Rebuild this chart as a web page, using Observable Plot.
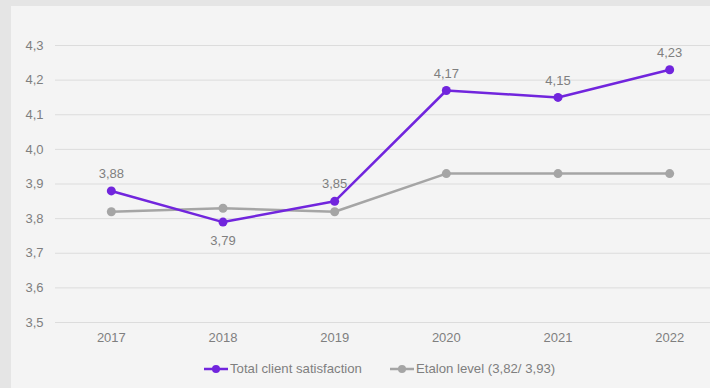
<!DOCTYPE html>
<html>
<head>
<meta charset="utf-8">
<script src="https://cdn.jsdelivr.net/npm/d3@7"></script>
<script src="https://cdn.jsdelivr.net/npm/@observablehq/plot@0.6"></script>
<style>
  html, body { margin: 0; padding: 0; width: 710px; height: 388px; overflow: hidden; background: #e5e5e5; font-family: "Liberation Sans", Arial, sans-serif; }
  #panel { position: absolute; left: 11px; top: 6px; width: 720px; height: 400px; background: #f4f4f4; }
  #chart { position: absolute; left: 0; top: 0; }
  #chart svg { max-width: none !important; }
  #legend { position: absolute; top: 361px; left: 204px; display: flex; gap: 28px; font-size: 13.2px; color: #7f7f7f; white-space: nowrap; }
  .item { display: flex; align-items: center; }
  .item svg { margin-right: 2px; }
</style>
</head>
<body>
<div id="panel"></div>
<div id="chart"></div>
<div id="legend"></div>
<script>
const years = ["2017", "2018", "2019", "2020", "2021", "2022"];
const satisfaction = [3.88, 3.79, 3.85, 4.17, 4.15, 4.23];
const etalon = [3.82, 3.83, 3.82, 3.93, 3.93, 3.93];
const yTicks = [3.5, 3.6, 3.7, 3.8, 3.9, 4.0, 4.1, 4.2, 4.3];
const seriesNames = ["Total client satisfaction", "Etalon level (3,82/ 3,93)"];
const colors = ["#7125dd", "#a5a5a5"];

const fmt = v => d3.format(".1f")(v).replace(".", ",");
const fmt2 = v => d3.format(".2f")(v).replace(".", ",");

const sat = years.map((y, i) => ({year: y, value: satisfaction[i], ref: etalon[i]}));
const eta = years.map((y, i) => ({year: y, value: etalon[i]}));
const above = sat.filter(d => d.value >= d.ref);
const below = sat.filter(d => d.value < d.ref);

const chart = Plot.plot({
  width: 725,
  height: 350,
  marginLeft: 55,
  marginRight: 0,
  marginTop: 45,
  marginBottom: 28,
  style: {background: "transparent", fontFamily: "Liberation Sans, Arial, sans-serif", fontSize: "13px", color: "#7f7f7f", maxWidth: "none"},
  x: {type: "point", domain: years, padding: 0.5, round: false, label: null},
  y: {domain: [3.5, 4.3], label: null},
  marks: [
    Plot.ruleY(yTicks, {stroke: "#dcdcdc", strokeWidth: 1}),
    Plot.axisY({ticks: yTicks, tickFormat: fmt, tickSize: 0, tickPadding: 12, fill: "#7f7f7f", fontSize: 13, label: null}),
    Plot.axisX({tickSize: 0, tickPadding: 10, fill: "#7f7f7f", fontSize: 13, label: null}),
    Plot.line(eta, {x: "year", y: "value", stroke: colors[1], strokeWidth: 2.5}),
    Plot.dot(eta, {x: "year", y: "value", fill: colors[1], r: 4.5}),
    Plot.line(sat, {x: "year", y: "value", stroke: colors[0], strokeWidth: 2.5}),
    Plot.dot(sat, {x: "year", y: "value", fill: colors[0], r: 4.5}),
    Plot.text(above, {x: "year", y: "value", text: d => fmt2(d.value), dy: -17, fill: "#7f7f7f", fontSize: 13}),
    Plot.text(below, {x: "year", y: "value", text: d => fmt2(d.value), dy: 19, fill: "#7f7f7f", fontSize: 13})
  ]
});
chart.style.maxWidth = "none";
document.getElementById("chart").appendChild(chart);

const legend = document.getElementById("legend");
seriesNames.forEach((name, i) => {
  const item = document.createElement("div");
  item.className = "item";
  item.innerHTML = `<svg width="24" height="12"><line x1="0" x2="24" y1="6" y2="6" stroke="${colors[i]}" stroke-width="2.5"/><circle cx="12" cy="6" r="4" fill="${colors[i]}"/></svg><span>${name}</span>`;
  legend.appendChild(item);
});
</script>
</body>
</html>
